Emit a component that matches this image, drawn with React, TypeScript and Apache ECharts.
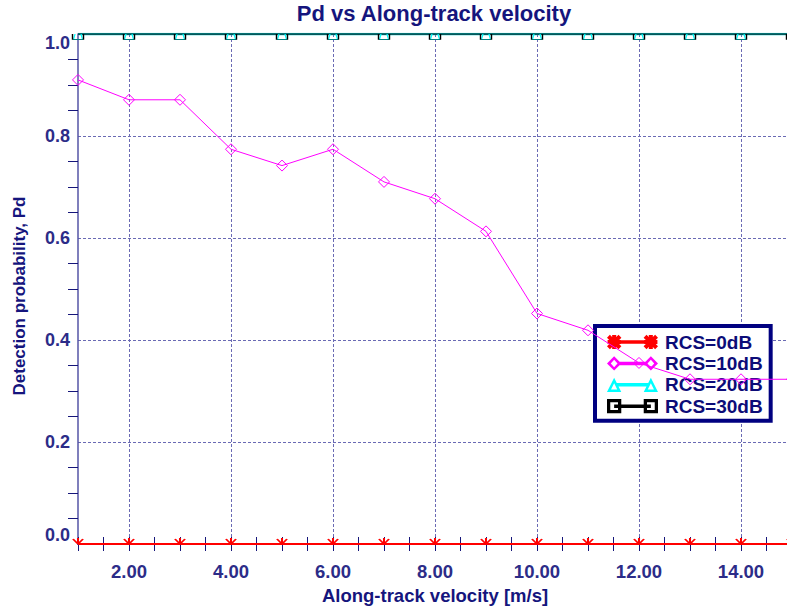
import { useEffect, useRef } from "react";
import * as echarts from "echarts";

// Along-track velocity samples [m/s]
const velocity = [1, 2, 3, 4, 5, 6, 7, 8, 9, 10, 11, 12, 13, 14, 15];

// Detection probability per target RCS
const pdRcs0 = [0, 0, 0, 0, 0, 0, 0, 0, 0, 0, 0, 0, 0, 0, 0];
const pdRcs10 = [0.91, 0.871, 0.871, 0.774, 0.742, 0.774, 0.71, 0.677, 0.613, 0.452, 0.419, 0.355, 0.323, 0.323, 0.323];
const pdRcs20 = [1, 1, 1, 1, 1, 1, 1, 1, 1, 1, 1, 1, 1, 1, 1];
const pdRcs30 = [1, 1, 1, 1, 1, 1, 1, 1, 1, 1, 1, 1, 1, 1, 1];

const seriesNames = ["RCS=0dB", "RCS=10dB", "RCS=20dB", "RCS=30dB"];

const FONT = '"Liberation Sans", Arial, Helvetica, sans-serif';
const TITLE_COLOR = "#15157d";
const LABEL_COLOR = "#2c2c88";
const GRID_COLOR = "#6a6ab4";
const TICK_COLOR = "#16167a";

type Pt = [number, number];

// signed area; positive = clockwise on screen
function area(p: Pt[]) {
  let a = 0;
  for (let i = 0; i < p.length; i++) {
    const j = (i + 1) % p.length;
    a += p[i][0] * p[j][1] - p[j][0] * p[i][1];
  }
  return a / 2;
}

function ring(p: Pt[], hole = false) {
  const pts = (area(p) > 0) !== hole ? p : [...p].reverse();
  return "M" + pts.map((q) => q[0].toFixed(2) + "," + q[1].toFixed(2)).join("L") + "Z";
}

function rect(x0: number, y0: number, x1: number, y1: number): Pt[] {
  return [[x0, y0], [x1, y0], [x1, y1], [x0, y1]];
}

function stick(cx: number, cy: number, dx: number, dy: number, hl: number, hw: number): Pt[] {
  const n = Math.hypot(dx, dy);
  const ux = dx / n, uy = dy / n;
  const px = -uy, py = ux;
  return [
    [cx - ux * hl + px * hw, cy - uy * hl + py * hw],
    [cx + ux * hl + px * hw, cy + uy * hl + py * hw],
    [cx + ux * hl - px * hw, cy + uy * hl - py * hw],
    [cx - ux * hl - px * hw, cy - uy * hl - py * hw],
  ];
}

const ENDS = [7, 43];

// legend glyphs: symbol - thick line - symbol
const asteriskIcon =
  ENDS.map((c) =>
    [
      ring(stick(c, 7, 1, 1, 8, 2)),
      ring(stick(c, 7, 1, -1, 8, 2)),
      ring(stick(c, 7, 0, 1, 7, 2)),
      ring(stick(c, 7, 1, 0, 6.5, 2)),
    ].join("")
  ).join("") + ring(rect(7, 5.3, 43, 8.7));

const diamondIcon =
  ENDS.map(
    (c) =>
      ring([[c, 0], [c + 7, 7], [c, 14], [c - 7, 7]]) +
      ring([[c, 3.3], [c + 3.3, 7], [c, 10.7], [c - 3.3, 7]], true)
  ).join("") + ring(rect(11, 5.3, 39, 8.7));

const triangleIcon =
  ENDS.map(
    (c) =>
      ring([[c, 0], [c + 7, 14], [c - 7, 14]]) +
      ring([[c, 5.6], [c + 3.05, 11.5], [c - 3.05, 11.5]], true)
  ).join("") + ring(rect(9.5, 5.3, 40.5, 8.7));

const squareIcon =
  ENDS.map((c) => ring(rect(c - 7, 0, c + 7, 14)) + ring(rect(c - 3.8, 3.2, c + 3.8, 10.8), true)).join("") +
  ring(rect(7, 5.3, 43, 8.7));

const pairs = (ys: number[]) => velocity.map((v, i) => [v, ys[i]]);

function buildOption(): echarts.EChartsOption {
  const tickLabel = { fontFamily: FONT, fontWeight: "bold" as const, color: LABEL_COLOR };
  return {
    animation: false,
    backgroundColor: "#ffffff",
    title: {
      text: "Pd vs Along-track velocity",
      left: 434,
      top: 2,
      textAlign: "center",
      padding: 0,
      textStyle: { fontFamily: FONT, fontWeight: "bold", fontSize: 22, color: TITLE_COLOR },
    },
    grid: { left: 78, right: -5, top: 34, bottom: 70, containLabel: false, outerBoundsMode: "none" } as any,
    legend: {
      orient: "vertical",
      left: 595,
      top: 326,
      z: 1,
      padding: [6.5, 8, 5, 12],
      itemWidth: 51,
      itemHeight: 15,
      itemGap: 2.4,
      backgroundColor: "#ffffff",
      borderColor: "#000080",
      borderWidth: 4,
      borderRadius: 0,
      selectedMode: false,
      textStyle: { fontFamily: FONT, fontWeight: "bold", fontSize: 19, lineHeight: 19, color: "#0c0c78", padding: [0, 0, 0, 2] },
      itemStyle: { borderWidth: 0 },
      data: [
        { name: seriesNames[0], icon: "path://" + asteriskIcon, itemStyle: { color: "#ff0000", borderWidth: 0 } },
        { name: seriesNames[1], icon: "path://" + diamondIcon, itemStyle: { color: "#ff00ff", borderWidth: 0 } },
        { name: seriesNames[2], icon: "path://" + triangleIcon, itemStyle: { color: "#00ffff", borderWidth: 0 } },
        { name: seriesNames[3], icon: "path://" + squareIcon, itemStyle: { color: "#000000", borderWidth: 0 } },
      ],
    },
    xAxis: [
      {
        type: "value",
        position: "bottom",
        min: 1,
        max: 15,
        interval: 1,
        name: "Along-track velocity [m/s]",
        nameLocation: "middle",
        nameGap: 42,
        nameTextStyle: { fontFamily: FONT, fontWeight: "bold", fontSize: 18.5, color: TITLE_COLOR },
        axisLine: { show: true, lineStyle: { color: TICK_COLOR, width: 1 } },
        axisTick: { show: true, inside: true, length: 7, lineStyle: { color: TICK_COLOR } },
        minorTick: { show: true, splitNumber: 2, length: 7, lineStyle: { color: TICK_COLOR } },
        axisLabel: {
          ...tickLabel,
          fontSize: 18.5,
          margin: 18,
          formatter: (v: number) => (Math.round(v) % 2 === 0 ? v.toFixed(2) : ""),
        },
        splitLine: {
          show: true,
          lineStyle: { color: ["rgba(0,0,0,0)", GRID_COLOR], type: [3, 2], width: 1 },
        },
      },
      {
        type: "value",
        position: "top",
        min: 1,
        max: 15,
        interval: 1,
        axisLine: { show: true, lineStyle: { color: TICK_COLOR, width: 1 } },
        axisTick: { show: true, inside: true, length: 7, lineStyle: { color: TICK_COLOR } },
        minorTick: { show: true, splitNumber: 2, length: 7, lineStyle: { color: TICK_COLOR } },
        axisLabel: { show: false },
        splitLine: { show: false },
      },
    ],
    yAxis: [
      {
        type: "value",
        position: "left",
        min: 0,
        max: 1,
        interval: 0.2,
        name: "Detection probability, Pd",
        nameLocation: "middle",
        nameGap: 50,
        nameTextStyle: { fontFamily: FONT, fontWeight: "bold", fontSize: 17, color: TITLE_COLOR, padding: [0, 14, 0, 0] },
        axisLine: { show: true, lineStyle: { color: "#5454a6", width: 1.5 } },
        axisTick: { show: false },
        minorTick: { show: true, splitNumber: 4, length: 10, lineStyle: { color: TICK_COLOR } },
        axisLabel: {
          ...tickLabel,
          fontSize: 18,
          margin: 8,
          showMinLabel: true,
          showMaxLabel: true,
          verticalAlignMinLabel: "bottom",
          verticalAlignMaxLabel: "top",
          formatter: (v: number) => v.toFixed(1),
        } as any,
        splitLine: { show: true, lineStyle: { color: GRID_COLOR, type: [3, 2], width: 1 } },
      },
      {
        type: "value",
        position: "right",
        min: 0,
        max: 1,
        interval: 0.2,
        axisLine: { show: true, lineStyle: { color: TICK_COLOR } },
        axisTick: { show: false },
        minorTick: { show: true, splitNumber: 4, length: 10, lineStyle: { color: TICK_COLOR } },
        axisLabel: { show: false },
        splitLine: { show: false },
      },
    ],
    series: [
      {
        name: seriesNames[0],
        type: "line",
        z: 2,
        data: pairs(pdRcs0),
        symbol: "path://M0,6L-5,1M0,6L5,1M0,6L0,0",
        symbolSize: [10, 6],
        symbolOffset: [0, "-50%"],
        itemStyle: { color: "rgba(0,0,0,0)", borderColor: "#ff0000", borderWidth: 1.6 },
        lineStyle: { color: "#ff0000", width: 2 },
        emphasis: { disabled: true },
      },
      {
        name: seriesNames[1],
        type: "line",
        z: 2,
        data: pairs(pdRcs10),
        symbol: "diamond",
        symbolSize: 11,
        itemStyle: { color: "rgba(0,0,0,0)", borderColor: "#ff00ff", borderWidth: 1 },
        lineStyle: { color: "#ff00ff", width: 1 },
        emphasis: { disabled: true },
      },
      {
        name: seriesNames[2],
        type: "line",
        z: 2,
        data: pairs(pdRcs20),
        symbol: "path://M-3,0L-4.5,5.5L4.5,5.5L3,0",
        symbolSize: [9, 5.5],
        symbolOffset: [0, "50%"],
        itemStyle: { color: "rgba(0,0,0,0)", borderColor: "#00ffff", borderWidth: 1 },
        lineStyle: { color: "#00c8c8", width: 2.5 },
        emphasis: { disabled: true },
      },
      {
        name: seriesNames[3],
        type: "line",
        z: 2,
        data: pairs(pdRcs30),
        symbol: "path://M0,0L0,5.5L11,5.5L11,0",
        symbolSize: [11, 5.5],
        symbolOffset: [0, "50%"],
        itemStyle: { color: "rgba(0,0,0,0)", borderColor: "#000000", borderWidth: 1 },
        lineStyle: { color: "#0a3034", width: 1.5 },
        emphasis: { disabled: true },
      },
    ],
  };
}

export default function App() {
  const ref = useRef<HTMLDivElement>(null);
  useEffect(() => {
    if (!ref.current) return;
    const chart = echarts.init(ref.current, undefined, { renderer: "svg" });
    chart.setOption(buildOption());
    return () => chart.dispose();
  }, []);
  return (
    <div
      ref={ref}
      style={{ position: "absolute", left: 0, top: 0, width: 787, height: 614, background: "#fff" }}
    />
  );
}
